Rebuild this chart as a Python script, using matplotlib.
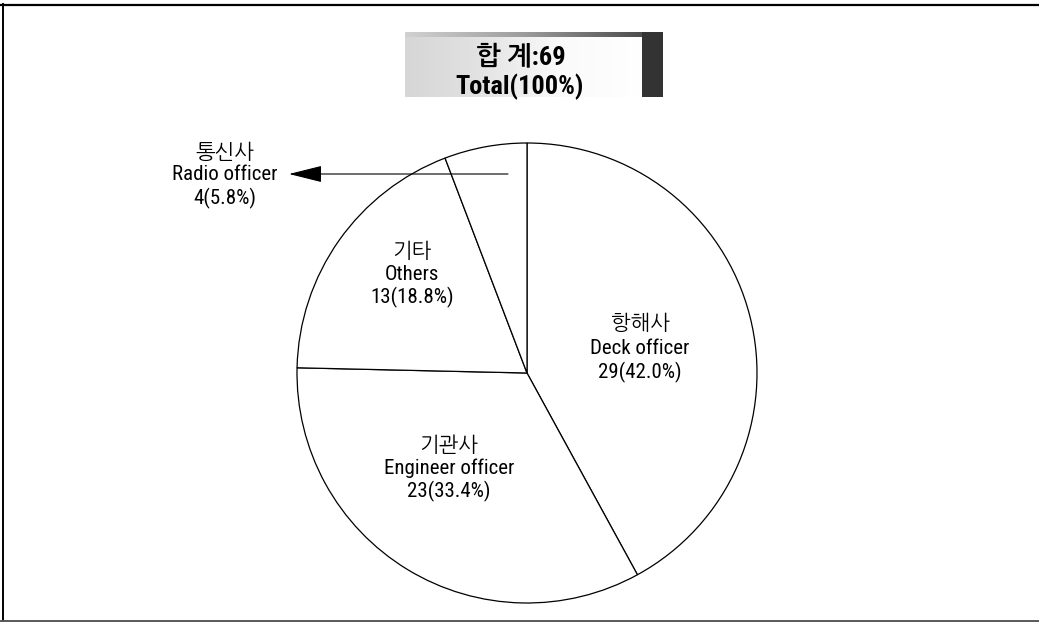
import numpy as np
import matplotlib
matplotlib.use('Agg')
import matplotlib.pyplot as plt

# ---- data ----
categories_ko = ['항해사', '기관사', '기타', '통신사']
categories_en = ['Deck officer', 'Engineer officer', 'Others', 'Radio officer']
counts = [29, 23, 13, 4]
percents = ['42.0%', '33.4%', '18.8%', '5.8%']
title_ko = '합 계:69'
title_en = 'Total(100%)'

W, H = 1039, 622
fig = plt.figure(figsize=(W / 100, H / 100), dpi=100)
fig.patch.set_facecolor('white')

# pie axes: centre (527,373) px, radius 230 px
cx, cy, r = 527, 373, 230
m = 1.01
pax = fig.add_axes([(cx - r * m) / W, (H - cy - r * m) / H, 2 * r * m / W, 2 * r * m / H])
pax.pie(counts, startangle=90, counterclock=False, colors=['white'] * len(counts),
        wedgeprops=dict(edgecolor='black', linewidth=0.9), radius=1)
pax.set_xlim(-m, m)
pax.set_ylim(-m, m)
pax.set_aspect('equal')
pax.axis('off')

# overlay axes in pixel coordinates
bg = fig.add_axes([0, 0, 1, 1])
bg.set_zorder(3)
bg.axis('off')

# frame
bg.plot([0, W], [4.5, 4.5], color='black', lw=1.6, solid_capstyle='butt')
bg.plot([3, 3], [4, 621], color='black', lw=1.4)
bg.plot([0, W], [620.5, 620.5], color='0.35', lw=1.4)

# title box with shading
bx0, bx1, by0, by1 = 405, 663, 32, 97
w, h = bx1 - bx0, by1 - by0
cols = np.arange(w) + bx0
base = np.interp(cols, [405, 470, 560, 642], [0.84, 0.88, 0.98, 1.0])
arr = np.tile(base, (h, 1))
top = np.interp(cols, [405, 520, 642], [0.82, 0.62, 0.3])
arr[:5, :] = np.tile(top, (5, 1))
arr[:, cols >= 642] = 0.2
rgb = np.dstack([arr, arr, arr])
bg.imshow(rgb, extent=(bx0, bx1, by1, by0), aspect='auto', interpolation='bilinear')
bg.set_xlim(0, W)
bg.set_ylim(H, 0)

tfam = ['Roboto Condensed', 'NanumGothic', 'DejaVu Sans']
bg.text(521, 57, title_ko, fontsize=19, weight='bold', family=tfam, ha='center', va='center')
bg.text(520, 87, title_en, fontsize=19, weight='bold', family=tfam, ha='center', va='center')

# slice labels (order matches data)
label_pos = [(640, 323, 348, 372),   # Deck
             (449, 445, 468, 491),   # Engineer
             (412, 251, 274, 297),   # Others
             (225, 152, 175, 198)]   # Radio
kfam = ['NanumGothic', 'DejaVu Sans']
efam = ['Roboto Condensed', 'DejaVu Sans']
for ko, en, c, p, (x, y1, y2, y3) in zip(categories_ko, categories_en, counts, percents, label_pos):
    bg.text(x, y1, ko, fontsize=15, family=kfam, ha='center', va='center')
    bg.text(x, y2, en, fontsize=15, family=efam, ha='center', va='center')
    bg.text(x, y3, f'{c}({p})', fontsize=15, family=efam, ha='center', va='center')

# arrow from radio slice to its label
bg.annotate('', xy=(289, 174), xytext=(508, 174),
            arrowprops=dict(arrowstyle='-|>,head_length=1.4,head_width=0.35', mutation_scale=15,
                            color='black', lw=0.8, shrinkA=0, shrinkB=0))

fig.savefig('out.png', dpi=100)
